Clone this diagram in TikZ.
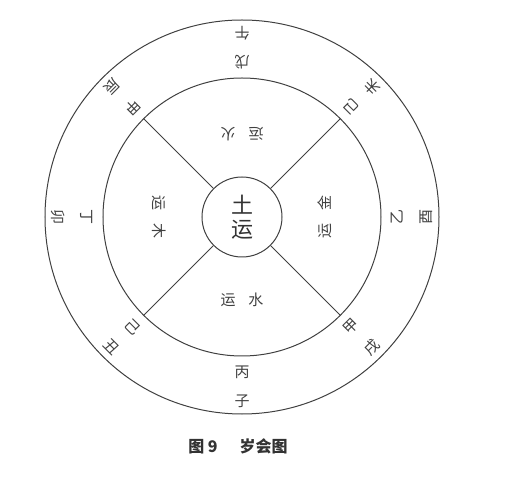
\documentclass[tikz,border=0pt]{standalone}
\usepackage{fontspec}
\newfontfamily\cjk{Noto Sans CJK SC}
\begin{document}
\begin{tikzpicture}[x=1pt,y=1pt,line width=1pt,
		ring/.style={draw=black!75},
		gz/.style={font=\cjk\fontsize{15}{15}\selectfont,text=black!75,inner sep=0pt},
		yun/.style={font=\cjk\fontsize{15}{15}\selectfont,text=black!75,inner sep=0pt}]
		\useasboundingbox (-242,217) rectangle (269,-264);
		\draw[ring] (0,0) circle (197);
		\draw[ring] (0,0) circle (139);
		\node[circle,draw=black!75,minimum size=80pt,inner sep=0pt,align=center,
			font=\cjk\fontsize{22}{24}\selectfont,text=black!80](tu){土\\运};
		% spokes
		\foreach \a in {45,135,225,315}{
			\coordinate (r\a) at (\a:139);
			\draw[ring] (tu.\a) -- (r\a);
		}
		% gan zhi
		\foreach \a/\gan/\zhi/\n in {90/戊/午/1,45/己/未/2,0/乙/酉/3,-45/甲/戌/4,
			-90/丙/子/5,-135/己/丑/6,180/丁/卯/7,135/甲/辰/8}{
			\node[gz,rotate=\a+90] (g\n) at (\a:155) {\gan};
			\node[gz,rotate=\a+90] (z\n) at (\a:184) {\zhi};
		}
		% yun
		\foreach \a/\x/\n in {90/火/huo,0/金/jin,-90/水/shui,180/木/mu}{
			\node[yun,rotate=\a+90] (y\n) at (\a:83) {运\hspace{13pt}\x};
		}
		\node[font=\cjk\bfseries\fontsize{16}{16}\selectfont,text=black!80] (cap) at (-4,-229) {图 9\hspace{22pt}岁会图};
\end{tikzpicture}
\end{document}
